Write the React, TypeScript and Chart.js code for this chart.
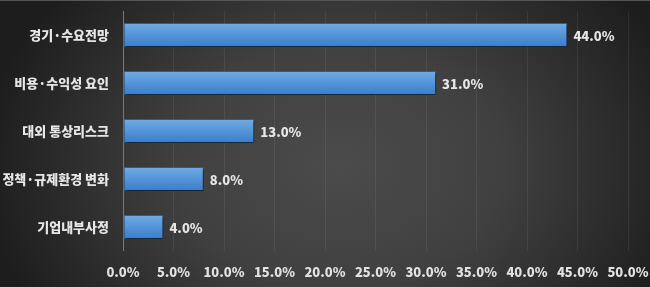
import React, { useEffect, useRef } from "react";
import { Chart, registerables } from "chart.js";

Chart.register(...registerables);

const categories: string[] = ["경기·수요전망", "비용·수익성 요인", "대외 통상리스크", "정책·규제환경 변화", "기업내부사정"];
const values: number[] = [44.0, 31.0, 13.0, 8.0, 4.0];
const xTicks: number[] = [0, 5, 10, 15, 20, 25, 30, 35, 40, 45, 50];

const FONT = "'Noto Sans CJK KR', 'Noto Sans', sans-serif";

export default function App() {
  const ref = useRef<HTMLCanvasElement | null>(null);

  useEffect(() => {
    document.body.style.margin = "0";
    const canvas = ref.current;
    if (!canvas) return;

    const bgPlugin = {
      id: "bg",
      beforeDraw(chart: any) {
        const { ctx, width, height } = chart;
        ctx.save();
        ctx.fillStyle = "#1c1c1c";
        ctx.fillRect(0, 0, width, height);
        ctx.translate(340, 165);
        ctx.scale(1, 0.75);
        const g = ctx.createRadialGradient(0, 0, 0, 0, 0, 360);
        g.addColorStop(0, "#4b4b4b");
        g.addColorStop(0.45, "#404040");
        g.addColorStop(1, "#1d1d1d");
        ctx.fillStyle = g;
        ctx.fillRect(-400, -300, 800, 600);
        ctx.restore();
        ctx.save();
        ctx.fillStyle = "#555555";
        ctx.fillRect(0, 0, width, 1);
        ctx.fillStyle = "#d8d8d8";
        ctx.fillRect(0, height - 1, width, 1);
        ctx.restore();
      },
    };

    const shadowPlugin = {
      id: "shadow",
      beforeDatasetsDraw(chart: any) {
        const ctx = chart.ctx;
        ctx.save();
        ctx.shadowColor = "rgba(0,0,0,0.65)";
        ctx.shadowOffsetX = 1;
        ctx.shadowOffsetY = 2;
        ctx.shadowBlur = 2;
      },
      afterDatasetsDraw(chart: any) {
        chart.ctx.restore();
      },
    };

    const labelPlugin = {
      id: "valueLabels",
      afterDatasetsDraw(chart: any) {
        const ctx = chart.ctx;
        const meta = chart.getDatasetMeta(0);
        ctx.save();
        ctx.font = `900 13px ${FONT}`;
        ctx.fillStyle = "#e6e6e6";
        ctx.textAlign = "left";
        ctx.textBaseline = "middle";
        meta.data.forEach((bar: any, i: number) => {
          ctx.fillText(values[i].toFixed(1) + "%", bar.x + 6, bar.y + 1);
        });
        ctx.restore();
      },
    };

    const chart = new Chart(canvas, {
      type: "bar",
      data: {
        labels: categories,
        datasets: [
          {
            data: values,
            barPercentage: 0.5,
            categoryPercentage: 1,
            borderWidth: 1,
            borderColor: "#2b5d94",
            borderSkipped: false,
            backgroundColor: (c: any) => {
              const chartObj = c.chart;
              const ys = chartObj.scales?.y;
              if (!ys || c.dataIndex === undefined) return "#4a8fd8";
              const yc = ys.getPixelForValue(c.dataIndex);
              if (!isFinite(yc)) return "#4a8fd8";
              const g = chartObj.ctx.createLinearGradient(0, yc - 12, 0, yc + 12);
              g.addColorStop(0, "#70ace4");
              g.addColorStop(1, "#3b7ccb");
              return g;
            },
          },
        ],
      },
      options: {
        indexAxis: "y",
        responsive: false,
        animation: false,
        layout: { padding: { top: 11, right: 22, left: 0, bottom: 0 } },
        plugins: {
          legend: { display: false },
          tooltip: { enabled: false },
        },
        scales: {
          x: {
            min: 0,
            max: 50,
            afterBuildTicks: (scale: any) => {
              scale.ticks = xTicks.map((v) => ({ value: v }));
            },
            afterFit: (scale: any) => {
              scale.height = 37;
              scale.paddingLeft = 0;
              scale.paddingRight = 0;
            },
            grid: {
              color: (c: any) => (c.index === 0 ? "#7a7a7a" : "rgba(255,255,255,0.07)"),
              lineWidth: 1,
              drawTicks: false,
            },
            border: { display: false },
            ticks: {
              padding: 13,
              color: "#e2e2e2",
              font: { family: FONT, size: 13, weight: "900" },
              maxRotation: 0,
              callback: (v: any) => Number(v).toFixed(1) + "%",
            },
          },
          y: {
            afterFit: (scale: any) => {
              scale.width = 123;
              scale.paddingTop = 0;
              scale.paddingBottom = 0;
            },
            grid: { display: false, drawTicks: false },
            border: { display: false },
            ticks: {
              padding: 14,
              color: "#e6e6e6",
              font: { family: FONT, size: 13, weight: "900" },
            },
          },
        },
      },
      plugins: [bgPlugin, shadowPlugin, labelPlugin],
    } as any);

    return () => chart.destroy();
  }, []);

  return <canvas ref={ref} width={650} height={288} style={{ display: "block" }} />;
}
